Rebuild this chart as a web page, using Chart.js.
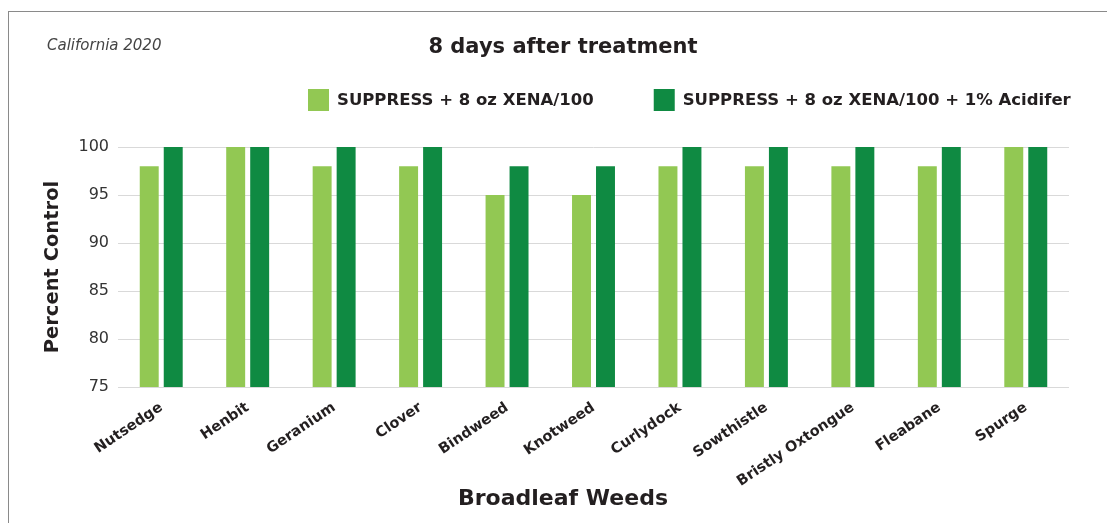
<!DOCTYPE html>
<html>
<head>
<meta charset="utf-8">
<script src="https://cdn.jsdelivr.net/npm/chart.js@4.4.1/dist/chart.umd.min.js"></script>
<style>
  html, body { margin: 0; padding: 0; background: #fff; }
  #wrap { position: relative; width: 1107px; height: 523px; overflow: hidden; }
  #frame { position: absolute; left: 8px; top: 11px; right: -2px; bottom: -2px;
           border-top: 1px solid #8a8a8a; border-left: 1px solid #8a8a8a; }
  #chart { position: absolute; left: 0; top: 0; }
</style>
</head>
<body>
<div id="wrap">
  <div id="frame"></div>
  <canvas id="chart" width="1107" height="523"></canvas>
</div>
<script>
const weeds = ['Nutsedge', 'Henbit', 'Geranium', 'Clover', 'Bindweed', 'Knotweed',
  'Curlydock', 'Sowthistle', 'Bristly Oxtongue', 'Fleabane', 'Spurge'];
const suppressXena = [98, 100, 98, 98, 95, 95, 98, 98, 98, 98, 100];
const suppressXenaAcidifer = [100, 100, 100, 100, 98, 98, 100, 100, 100, 100, 100];
const seriesNames = ['SUPPRESS + 8 oz XENA/100', 'SUPPRESS + 8 oz XENA/100 + 1% Acidifer'];

const FONT = '"DejaVu Sans", sans-serif';
const textColor = '#231f20';

// titles, note and legend are drawn here so they can sit where the original has them
const headerPlugin = {
  id: 'header',
  afterDraw(chart) {
    const c = chart.ctx;
    c.save();
    c.textBaseline = 'middle';

    c.fillStyle = '#444';
    c.font = 'italic 15px ' + FONT;
    c.textAlign = 'left';
    c.fillText('California 2020', 47, 46);

    c.fillStyle = textColor;
    c.font = 'bold 21px ' + FONT;
    c.textAlign = 'center';
    c.fillText('8 days after treatment', 563, 48);

    c.font = 'bold 22px ' + FONT;
    c.fillText('Broadleaf Weeds', 563, 499);

    // legend
    c.font = 'bold 16.5px ' + FONT;
    c.textAlign = 'left';
    let x = 308;
    chart.data.datasets.forEach((ds) => {
      c.fillStyle = ds.backgroundColor;
      c.fillRect(x, 89, 21, 22);
      c.fillStyle = textColor;
      c.fillText(ds.label, x + 29, 101);
      x += 29 + c.measureText(ds.label).width + 60;
    });
    c.restore();
  }
};

const ctx = document.getElementById('chart').getContext('2d');
new Chart(ctx, {
  type: 'bar',
  data: {
    labels: weeds,
    datasets: [
      { label: seriesNames[0], data: suppressXena, backgroundColor: '#92c853' },
      { label: seriesNames[1], data: suppressXenaAcidifer, backgroundColor: '#0f8a42' }
    ]
  },
  plugins: [headerPlugin],
  options: {
    responsive: false,
    animation: false,
    categoryPercentage: 0.555,
    barPercentage: 0.79,
    layout: { padding: { left: 38, right: 38, top: 147, bottom: 0 } },
    plugins: {
      legend: { display: false },
      tooltip: { enabled: false }
    },
    scales: {
      x: {
        grid: { display: false },
        border: { display: false },
        ticks: {
          color: textColor,
          minRotation: 34,
          maxRotation: 34,
          padding: 4,
          font: { family: FONT, size: 14.5, weight: 'bold' }
        },
        afterFit: (scale) => { scale.height = 136; }
      },
      y: {
        min: 75,
        max: 100,
        ticks: {
          stepSize: 5,
          color: '#333',
          padding: 9,
          font: { family: FONT, size: 16 }
        },
        grid: { color: '#d9d9d9', drawTicks: false },
        border: { display: false },
        title: {
          display: true,
          text: 'Percent Control',
          color: textColor,
          font: { family: FONT, size: 19.5, weight: 'bold' },
          padding: { top: 3, bottom: 0 }
        },
        afterFit: (scale) => { scale.width = 80; }
      }
    }
  }
});
</script>
</body>
</html>
